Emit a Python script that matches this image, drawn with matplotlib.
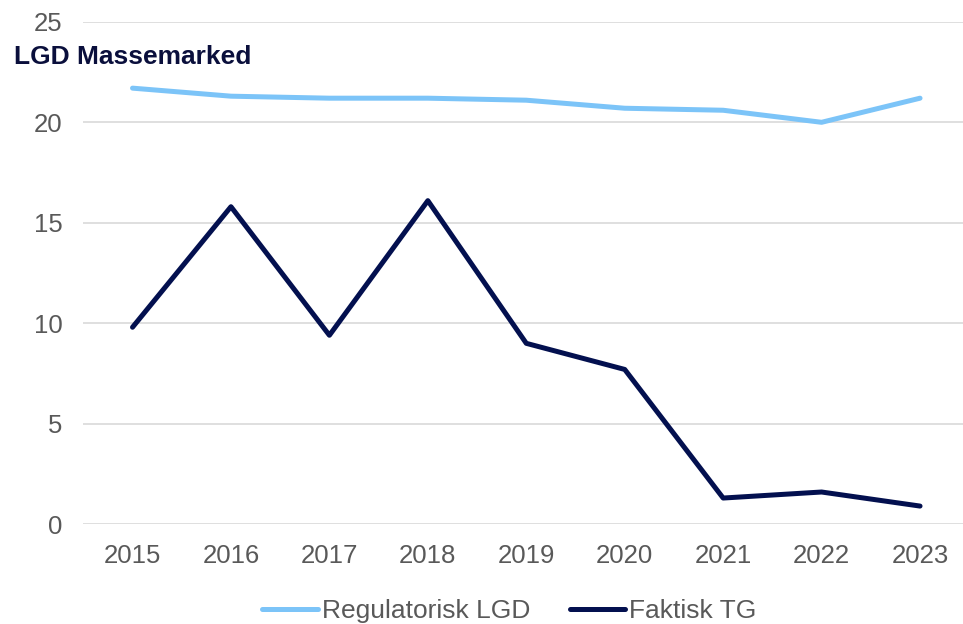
import matplotlib
matplotlib.use('Agg')
import matplotlib.pyplot as plt

plt.rcParams['font.family'] = ['Liberation Sans', 'DejaVu Sans']

# Data
years = ['2015', '2016', '2017', '2018', '2019', '2020', '2021', '2022', '2023']
regulatorisk_lgd = [21.7, 21.3, 21.2, 21.2, 21.1, 20.7, 20.6, 20.0, 21.2]
faktisk_tg = [9.8, 15.8, 9.4, 16.1, 9.0, 7.7, 1.3, 1.6, 0.9]

fig = plt.figure(figsize=(9.63, 6.24), dpi=100)
ax = fig.add_axes([0.0865, 0.16, 0.92, 0.805])

x = range(len(years))
ax.plot(x, regulatorisk_lgd, color='#7CC4F8', linewidth=3.6,
        solid_capstyle='round', label='Regulatorisk LGD')
ax.plot(x, faktisk_tg, color='#03104F', linewidth=3.6,
        solid_capstyle='round', label='Faktisk TG')

ax.set_xlim(-0.5, len(years) - 0.5)
ax.set_ylim(0, 25)
ax.set_yticks([0, 5, 10, 15, 20, 25])
ax.set_xticks(list(x))
ax.set_xticklabels(years)
ax.grid(axis='y', color='#D9D9D9', linewidth=1.2)
ax.set_axisbelow(True)
for s in ax.spines.values():
    s.set_visible(False)
ax.tick_params(length=0, labelsize=18.5, labelcolor='#595959')
ax.tick_params(axis='x', pad=14)
ax.tick_params(axis='y', pad=15)

fig.text(0.015, 0.908, 'LGD Massemarked', fontsize=19, fontweight='bold',
         color='#0A0F3C', va='center', ha='left')

leg = fig.legend(loc='center', bbox_to_anchor=(0.529, 0.021), ncol=2,
                 frameon=False, fontsize=19, handlelength=2.1,
                 handletextpad=0.15, columnspacing=1.5)
for t in leg.get_texts():
    t.set_color('#595959')

fig.savefig('out.png', dpi=100)
